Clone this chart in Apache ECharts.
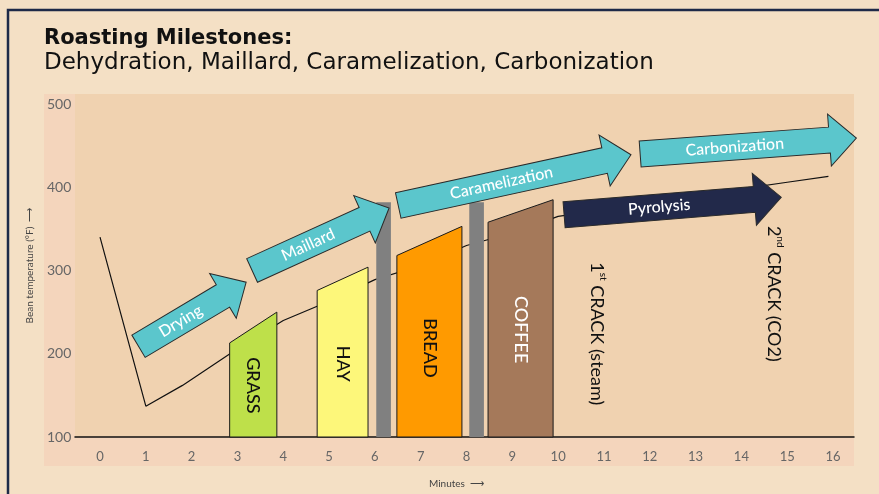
<!DOCTYPE html>
<html>
<head>
<meta charset="utf-8">
<script src="https://cdn.jsdelivr.net/npm/echarts@6/dist/echarts.min.js"></script>
<style>
html,body{margin:0;padding:0;background:#F4E0C5;}
#chart{width:879px;height:494px;}
</style>
</head>
<body>
<div id="chart"></div>
<script>
// ---- data ----
var minuteTicks = [0,1,2,3,4,5,6,7,8,9,10,11,12,13,14,15,16];
var tempTicks = [100,200,300,400,500];
var curveMinutes = [0,1,1.8,3,4,5,6,7,8,9,10,11,12,13,14,15,15.9];
var curveTemps = [340,137,162,206,240,263,289,306,330,345,365,373,381,389,398,406,413];

var milestoneNames = ['GRASS','HAY','BREAD','COFFEE'];
var milestoneStart = [2.83,4.74,6.48,8.47];
var milestoneEnd = [3.86,5.85,7.90,9.89];
var milestoneTopStart = [213,276,318,358];
var milestoneTopEnd = [250,304,353,385];
var milestoneLabelY = [162,188,207,229];

var markerStart = [6.03,8.06];
var markerEnd = [6.35,8.38];
var markerTop = [382,382];

var phaseNames = ['Drying','Maillard','Caramelization','Carbonization','Pyrolysis'];
var phaseTailMin = [0.84,3.32,6.51,11.79,10.13];
var phaseTailTemp = [209,300,378,440,367];
var phaseTipMin = [3.19,6.31,11.59,16.51,14.87];
var phaseTipTemp = [286,375,439,459,388];

var crackLabels = ['{n|1}{s|st}{n| CRACK (steam)}','{n|2}{s|nd}{n| CRACK (CO2)}'];
var crackMin = [10.87,14.73];
var crackTemp = [224,272];

// ---- styles ----
var milestoneColors = ['#BEE04A','#FDF77A','#FF9A00','#A5795A'];
var milestoneTextColors = ['#111','#111','#111','#fff'];
var phaseColors = ['#5BC6CC','#5BC6CC','#5BC6CC','#5BC6CC','#22294A'];
var FONT = 'Lato';
var TFONT = 'DejaVu Sans';

var chart = echarts.init(document.getElementById('chart'));

var curveData = curveMinutes.map(function(m,i){return [m, curveTemps[i]];});
var milestoneData = milestoneNames.map(function(n,i){
  return [milestoneStart[i], milestoneEnd[i], milestoneTopStart[i], milestoneTopEnd[i], milestoneLabelY[i], i];
});
var markerData = markerStart.map(function(s,i){return [s, markerEnd[i], markerTop[i]];});
var phaseData = phaseNames.map(function(n,i){
  return [phaseTailMin[i], phaseTailTemp[i], phaseTipMin[i], phaseTipTemp[i], i];
});
var crackData = crackLabels.map(function(t,i){return [crackMin[i], crackTemp[i], i];});

var option = {
  backgroundColor: '#F4E0C5',
  animation: false,
  title: {
    left: 44, top: 28, itemGap: 3, padding: 0,
    text: 'Roasting Milestones:',
    textStyle: {fontFamily: TFONT, fontSize: 21, fontWeight: 'bold', color: '#111'},
    subtext: 'Dehydration, Maillard, Caramelization, Carbonization',
    subtextStyle: {fontFamily: TFONT, fontSize: 23, fontWeight: 'normal', color: '#111'}
  },
  graphic: [
    {type: 'rect', z: -10, shape: {x: 8, y: 10, width: 900, height: 520}, style: {fill: '#F4E0C5', stroke: '#1E2A48', lineWidth: 2.5}},
    {type: 'rect', z: -9, shape: {x: 44, y: 94, width: 810, height: 372}, style: {fill: '#F4D5BC'}}
  ],
  grid: {left: 75, right: 25, top: 94, bottom: 55, show: true, backgroundColor: '#F0D2B0', borderWidth: 0},
  xAxis: {
    type: 'value', min: -0.546, max: 16.458,
    splitLine: {show: false}, axisTick: {show: false},
    axisLine: {show: true, lineStyle: {color: '#111', width: 1.5}},
    axisLabel: {customValues: minuteTicks, color: '#666', fontFamily: FONT, fontSize: 13, margin: 13},
    name: 'Minutes  \u27F6', nameLocation: 'middle', nameGap: 42,
    nameTextStyle: {color: '#444', fontFamily: FONT, fontSize: 10, padding: [0, 16, 0, 0]}
  },
  yAxis: {
    type: 'value', min: 100, max: 512,
    splitLine: {show: false}, axisTick: {show: false}, axisLine: {show: false},
    axisLabel: {customValues: tempTicks, color: '#666', fontFamily: FONT, fontSize: 14, align: 'left', margin: 28},
    name: 'Bean temperature (\u00B0F)  \u27F6', nameLocation: 'middle', nameGap: 40,
    nameTextStyle: {color: '#444', fontFamily: FONT, fontSize: 10}
  },
  series: [
    {
      type: 'line', z: 1, data: curveData, symbol: 'none', silent: true,
      lineStyle: {color: '#111', width: 1.2}
    },
    {
      type: 'custom', z: 3, data: markerData, silent: true,
      renderItem: function(params, api){
        var p0 = api.coord([api.value(0), 100]);
        var p1 = api.coord([api.value(1), api.value(2)]);
        return {type: 'rect', shape: {x: p0[0], y: p1[1], width: p1[0]-p0[0], height: p0[1]-p1[1]}, style: {fill: '#808080'}};
      }
    },
    {
      type: 'custom', z: 3, data: milestoneData, silent: true,
      renderItem: function(params, api){
        var x0 = api.value(0), x1 = api.value(1);
        var idx = api.value(5);
        var a = api.coord([x0, 100]), b = api.coord([x0, api.value(2)]);
        var c = api.coord([x1, api.value(3)]), d = api.coord([x1, 100]);
        var lp = api.coord([(x0+x1)/2, api.value(4)]);
        return {type: 'group', children: [
          {type: 'polygon', shape: {points: [a,b,c,d]}, style: {fill: milestoneColors[idx], stroke: '#1a1a1a', lineWidth: 1}},
          {type: 'text', x: lp[0], y: lp[1], rotation: -Math.PI/2,
           style: {text: milestoneNames[idx], fill: milestoneTextColors[idx], font: '500 18px ' + FONT, align: 'center', verticalAlign: 'middle'}}
        ]};
      }
    },
    {
      type: 'custom', z: 4, data: crackData, silent: true,
      renderItem: function(params, api){
        var p = api.coord([api.value(0), api.value(1)]);
        var idx = api.value(2);
        return {type: 'text', x: p[0], y: p[1], rotation: -Math.PI/2,
          style: {text: crackLabels[idx], align: 'center', verticalAlign: 'middle',
            rich: {n: {fontFamily: FONT, fontSize: 18, fill: '#111', lineHeight: 20, verticalAlign: 'bottom'},
                   s: {fontFamily: FONT, fontSize: 10, fill: '#111', lineHeight: 20, verticalAlign: 'top'}}}};
      }
    },
    {
      type: 'custom', z: 5, data: phaseData, silent: true,
      renderItem: function(params, api){
        var idx = api.value(4);
        var t = api.coord([api.value(0), api.value(1)]);
        var h = api.coord([api.value(2), api.value(3)]);
        var dx = h[0]-t[0], dy = h[1]-t[1];
        var L = Math.sqrt(dx*dx+dy*dy);
        var ang = Math.atan2(dy, dx);
        var sw = 13, hw = 26, hl = 27;
        var pts = [[0,-sw],[L-hl,-sw],[L-hl,-hw],[L,0],[L-hl,hw],[L-hl,sw],[0,sw]];
        return {type: 'group', x: t[0], y: t[1], rotation: -ang, children: [
          {type: 'polygon', shape: {points: pts}, style: {fill: phaseColors[idx], stroke: '#2a2a2a', lineWidth: 1}},
          {type: 'text', x: (L-hl)/2, y: 0,
           style: {text: phaseNames[idx], fill: '#fff', font: '500 16px ' + FONT, align: 'center', verticalAlign: 'middle'}}
        ]};
      }
    }
  ]
};
chart.setOption(option);
</script>
</body>
</html>
